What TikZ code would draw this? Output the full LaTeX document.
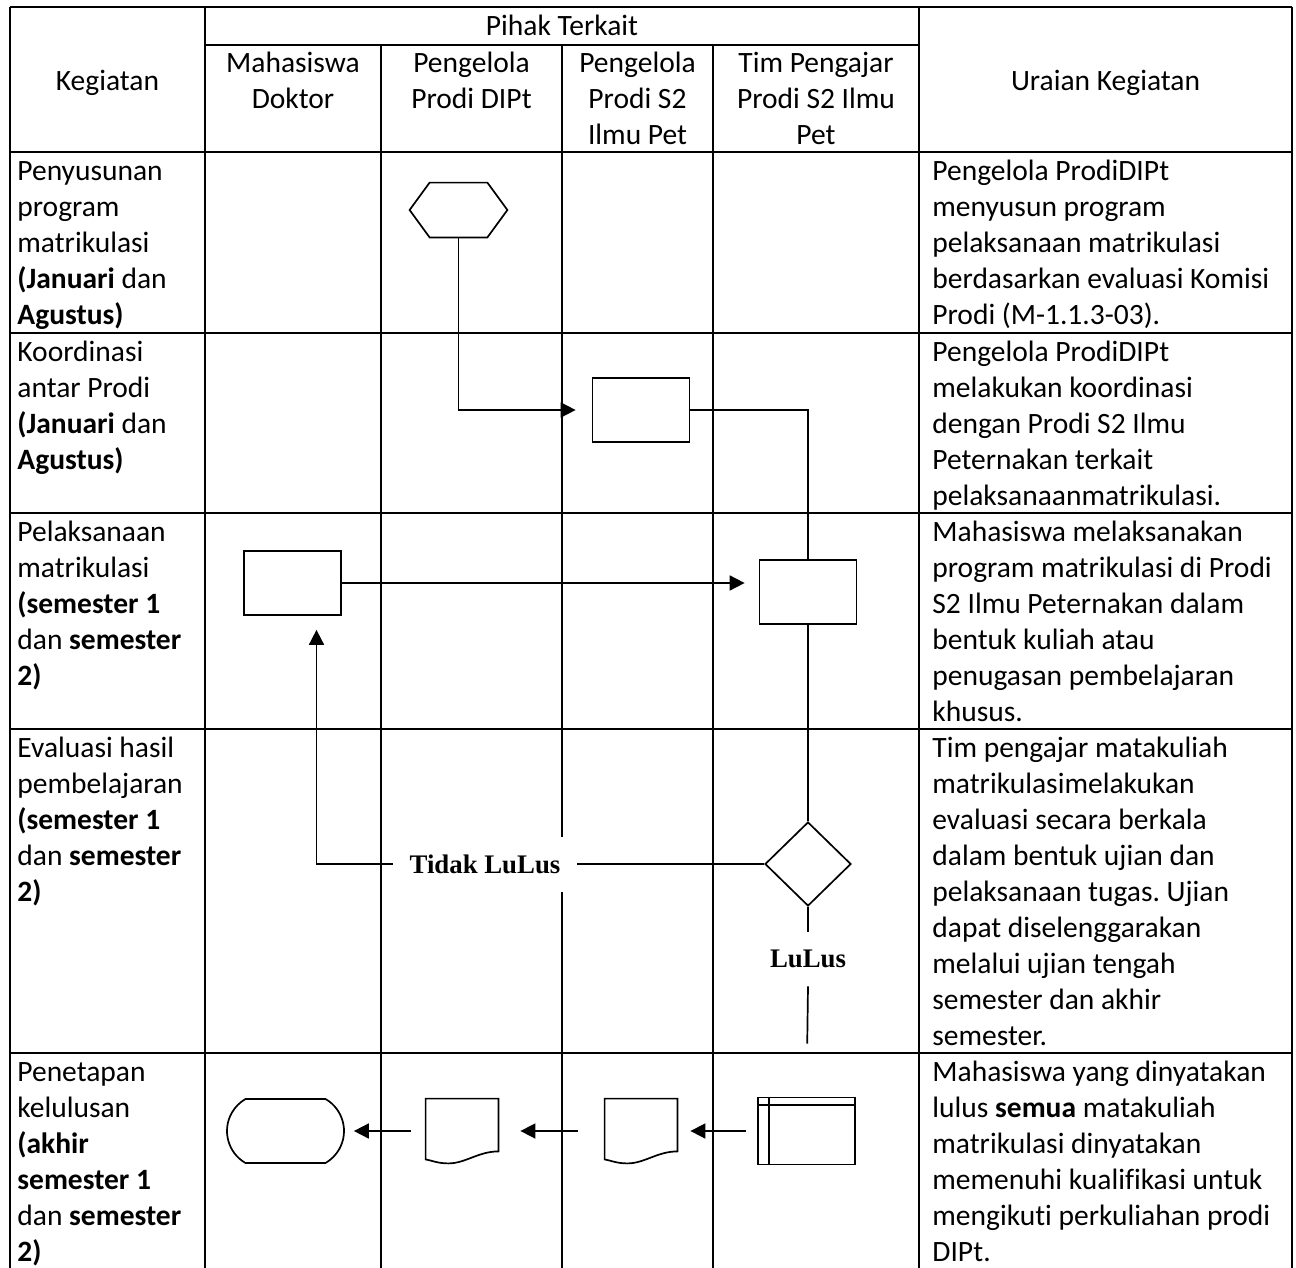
\documentclass[tikz,border=0pt]{standalone}
\usepackage{fontspec}
\setmainfont{Carlito}[Ligatures=NoCommon]
\newfontfamily\timesfont{Liberation Serif}
\usetikzlibrary{arrows.meta,shapes.geometric,shapes.misc}
\frenchspacing

\begin{document}
\begin{tikzpicture}[x=0.5pt, y=-0.5pt,
  every node/.style={font=\fontsize{14.75}{18}\selectfont, inner sep=0pt},
  grid/.style={line width=1pt},
  flow/.style={line width=0.85pt},
  arr/.style={flow, -{Triangle[length=7.5pt,width=7.5pt]}},
  cell/.style={anchor=north west, align=left},
  head/.style={anchor=north, align=center},
  box/.style={draw, line width=0.85pt, minimum width=48.5pt, minimum height=32pt},
  yn/.style={font=\timesfont\bfseries\fontsize{13.4}{16}\selectfont, fill=white}]
\useasboundingbox (0,0) rectangle (1296,1268);

% Table
\draw[line width=1.3pt] (10,7) -- (1292,7);
\draw[grid] (205,45) -- (919,45);
\draw[line width=1.3pt] (10,152) -- (1292,152);
\foreach \y in {333,513,729,1053}
  \draw[grid] (10,\y) -- (1292,\y);
\foreach \x in {10,205,919,1292}
  \draw[grid] (\x,7) -- (\x,1268);
\foreach \x in {381,562,713}
  \draw[grid] (\x,45) -- (\x,1268);

% Header
\node[anchor=base] (kegiatan) at (107.5,91) {Kegiatan};
\node[anchor=base] (pihak) at (562,36) {Pihak Terkait};
\node[anchor=base] (uraian) at (1105.5,91) {Uraian Kegiatan};
\node[head] (mhsH) at (293,47) {\strut Mahasiswa\\Doktor};
\node[head] (dipH) at (471.5,47) {\strut Pengelola\\Prodi DIPt};
\node[head] (s2H) at (637.5,47) {\strut Pengelola\\Prodi S2\\Ilmu Pet};
\node[head] (timH) at (816,47) {\strut Tim Pengajar\\Prodi S2 Ilmu\\Pet};

% Kegiatan
\node[cell] (keg1) at (17,155) {\strut Penyusunan\\program\\matrikulasi\\\textbf{(Januari} dan\\\textbf{Agustus)}};
\node[cell] (keg2) at (17,336) {\strut Koordinasi\\antar Prodi\\\textbf{(Januari} dan\\\textbf{Agustus)}};
\node[cell] (keg3) at (17,516) {\strut Pelaksanaan\\matrikulasi\\\textbf{(semester 1}\\dan \textbf{semester}\\\textbf{2)}};
\node[cell] (keg4) at (17,732) {\strut Evaluasi hasil\\pembelajaran\\\textbf{(semester 1}\\dan \textbf{semester}\\\textbf{2)}};
\node[cell] (keg5) at (17,1056) {\strut Penetapan\\kelulusan\\\textbf{(akhir}\\\textbf{semester 1}\\dan \textbf{semester}\\\textbf{2)}};

% Uraian
\node[cell] (ur1) at (932,155) {\strut Pengelola ProdiDIPt\\menyusun program\\pelaksanaan matrikulasi\\berdasarkan evaluasi Komisi\\Prodi (M-1.1.3-03).};
\node[cell] (ur2) at (932,336) {\strut Pengelola ProdiDIPt\\melakukan koordinasi\\dengan Prodi S2 Ilmu\\Peternakan terkait\\pelaksanaanmatrikulasi.};
\node[cell] (ur3) at (932,516) {\strut Mahasiswa melaksanakan\\program matrikulasi di Prodi\\S2 Ilmu Peternakan dalam\\bentuk kuliah atau\\penugasan pembelajaran\\khusus.};
\node[cell] (ur4) at (932,732) {\strut Tim pengajar matakuliah\\matrikulasimelakukan\\evaluasi secara berkala\\dalam bentuk ujian dan\\pelaksanaan tugas. Ujian\\dapat diselenggarakan\\melalui ujian tengah\\semester dan akhir\\semester.};
\node[cell] (ur5) at (932,1056) {\strut Mahasiswa yang dinyatakan\\lulus \textbf{semua} matakuliah\\matrikulasi dinyatakan\\memenuhi kualifikasi untuk\\mengikuti perkuliahan prodi\\DIPt.};

% Flow
\node[minimum width=48.5pt, minimum height=27pt] (start) at (458.5,210) {};
\draw[flow] ([xshift=10pt]start.north west) -- ([xshift=-10pt]start.north east) -- (start.east)
  -- ([xshift=-10pt]start.south east) -- ([xshift=10pt]start.south west) -- (start.west) -- cycle;
\node[box] (koord) at (641,410) {};
\node[box] (kuliah) at (292.5,583) {};
\node[box] (ajar) at (808,592) {};
\node[diamond, draw, flow, minimum width=43pt, minimum height=42pt, aspect=1] (eval) at (808,864) {};
\node[yn, minimum width=92pt, minimum height=27.5pt] (tidak) at (485,864) {Tidak LuLus};
\node[yn, fill=none, minimum height=27pt] (lulus) at (808,959) {LuLus};

\node[rounded rectangle, rounded rectangle arc length=120, draw, flow,
  minimum width=58.5pt, minimum height=32pt] (selesai) at (285.5,1131) {};
\node[minimum width=36pt, minimum height=32pt] (sk1) at (462,1131) {};
\node[minimum width=36pt, minimum height=32pt] (sk2) at (641,1131) {};
\foreach \d in {sk1,sk2}
  \draw[flow] ([yshift=2pt]\d.south west) -- (\d.north west) -- (\d.north east) -- ([yshift=6pt]\d.south east)
    .. controls ([xshift=-10pt,yshift=6pt]\d.south east) and ([xshift=-16.5pt]\d.south east) .. ([xshift=-25pt]\d.south east)
    .. controls ([xshift=6pt]\d.south west) and ([xshift=3pt,yshift=1.5pt]\d.south west) .. ([yshift=2pt]\d.south west) -- cycle;
\node[box, minimum height=33.5pt] (nilai) at (806.5,1131) {};
\draw[flow] ([xshift=6pt]nilai.north west) -- ([xshift=6pt]nilai.south west);
\draw[flow] ([yshift=-4pt]nilai.north west) -- ([yshift=-4pt]nilai.north east);

\draw[arr, shorten >=8pt] (start.south) |- (koord.west);
\draw[flow] (koord.east) -| (ajar.north);
\draw[arr, shorten >=7pt] (kuliah.east) -- (kuliah.east -| ajar.west);
\draw[flow] (ajar.south) -- (eval.north);
\draw[flow] (eval.west) -- (tidak.east);
\draw[arr, shorten >=7pt] (tidak.west) -| ([xshift=12pt]kuliah.south);
\draw[flow] (eval.south) -- (lulus.north);
\draw[flow, shorten >=26.5pt] (lulus.south) -- (nilai.north);
\draw[arr, shorten <=5.5pt, shorten >=6.5pt] (nilai.west) -- (sk2.east);
\draw[arr, shorten <=13.5pt, shorten >=11pt] (sk2.west) -- (sk1.east);
\draw[arr, shorten <=7.5pt, shorten >=4.5pt] (sk1.west) -- (selesai.east);
\end{tikzpicture}
\end{document}
